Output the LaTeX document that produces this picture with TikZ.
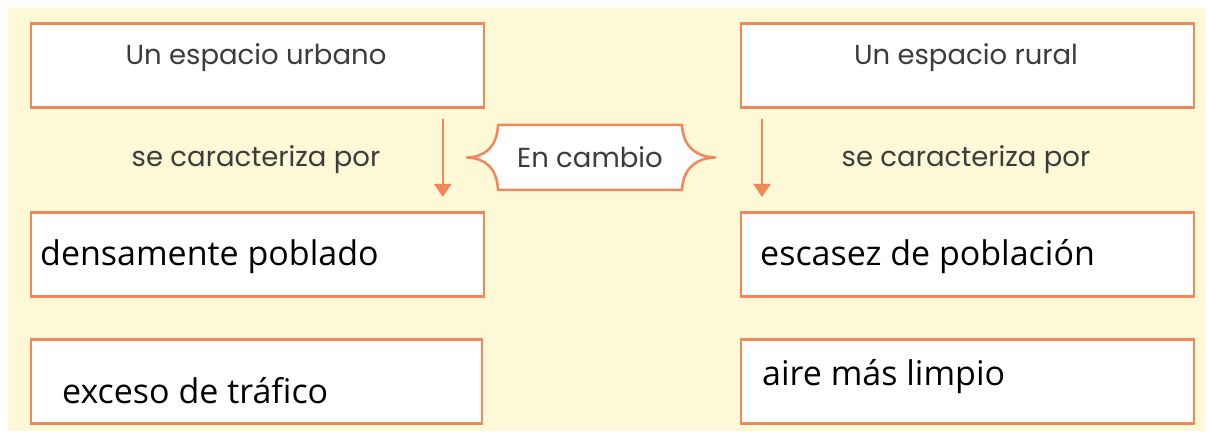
\documentclass[tikz,border=0pt]{standalone}
\usepackage{fontspec}
\newfontfamily\labfont{Poppins}
\newfontfamily\itemfont{Open Sans}
\usetikzlibrary{arrows.meta}
\definecolor{bgy}{HTML}{FDF8D6}
\definecolor{org}{HTML}{F0885A}
\definecolor{labg}{HTML}{3C3C3C}
\begin{document}
\begin{tikzpicture}[x=1pt,y=-1pt,
  box/.style={draw=org, line width=2.8pt, fill=white, minimum width=453pt, minimum height=84pt, inner sep=0pt, anchor=north west},
  lab/.style={font=\labfont\fontsize{27.5}{32}\selectfont, text=labg, inner sep=0pt, anchor=base},
  item/.style={font=\itemfont\fontsize{34}{40}\selectfont, text=black, inner sep=0pt, anchor=base west},
  arr/.style={draw=org, line width=2.5pt, -{Triangle[length=13pt,width=17pt]}}]
\useasboundingbox (0,0) rectangle (1208,435);
\fill[white] (0,0) rectangle (1208,435);
\fill[bgy] (8,8) rectangle (1205,431);
% boxes
\node[box] (lt) at (29.5,22.5) {};
\node[box] (rt) at (739.5,22.5) {};
\node[box] (lm) at (29.5,211.5) {};
\node[box] (rm) at (739.5,211.5) {};
\node[box, minimum width=451pt] (lb) at (29.5,338.5) {};
\node[box] (rb) at (739.5,338.5) {};
% labels
\node[lab] (tl) at (256,65) {Un espacio urbano};
\node[lab] (tr) at (966,65) {Un espacio rural};
\node[lab] (cl) at (256,167) {se caracteriza por};
\node[lab] (cr) at (966,167) {se caracteriza por};
% items
\node[item] (i1) at (40,266) {densamente poblado};
\node[item] (i2) at (62,404) {exceso de tráfico};
\node[item] (i3) at (760,266) {escasez de población};
\node[item] (i4) at (762,386) {aire más limpio};
% arrows
\draw[arr] ([shift={(-42.5,9.5)}]lt.south east) -- ([shift={(-42.5,-14.5)}]lm.north east);
\draw[arr] ([shift={(22.5,9.5)}]rt.south west) -- ([shift={(22.5,-14.5)}]rm.north west);
% En cambio
\draw[org, line width=2.5pt, fill=white, line join=round]
  (498,125) -- (682,125)
  .. controls (683,148) and (698,157) .. (715,157.5)
  .. controls (698,158) and (683,167) .. (682,190)
  -- (498,190)
  .. controls (497,167) and (484,158) .. (467,157.5)
  .. controls (484,157) and (497,148) .. (498,125) -- cycle;
\node[lab, anchor=base] (ec) at (590,168) {En cambio};
\end{tikzpicture}
\end{document}
